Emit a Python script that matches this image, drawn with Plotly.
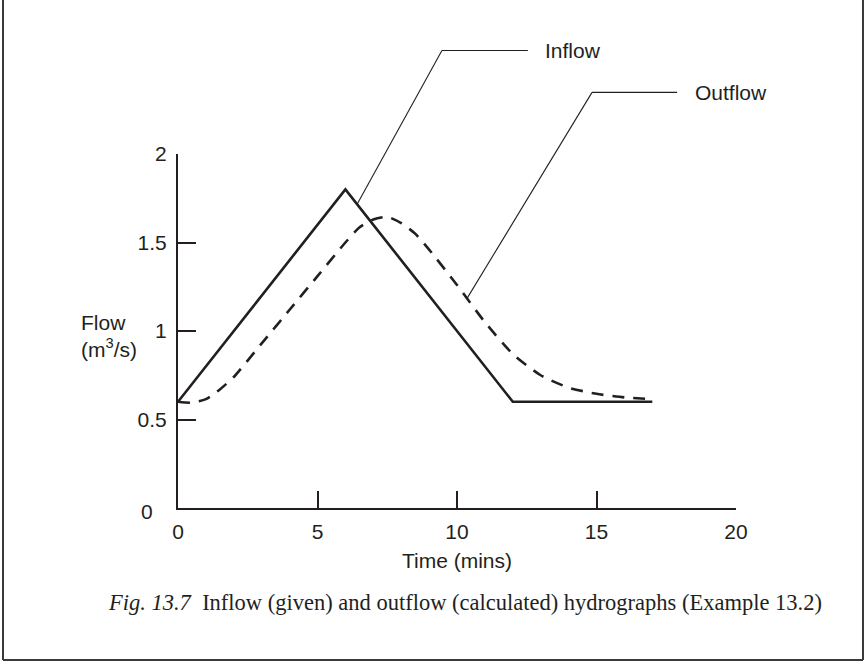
import numpy as np
import plotly.graph_objects as go

# Hydrograph data (time in minutes, flow in m^3/s)
inflow_t = [0, 6, 12, 17]
inflow_q = [0.6, 1.8, 0.6, 0.6]

outflow_t = [0, 0.5, 1, 1.5, 2, 3, 4, 5, 6, 6.5, 7, 7.5, 8, 8.5, 9, 10, 11, 12, 13, 14, 15, 16, 17]
outflow_q = [0.60, 0.595, 0.615, 0.67, 0.74, 0.93, 1.12, 1.31, 1.50, 1.585, 1.63, 1.645, 1.61,
             1.55, 1.46, 1.26, 1.05, 0.87, 0.75, 0.68, 0.645, 0.625, 0.615]

x_ticks = [0, 5, 10, 15, 20]
y_ticks = [0.5, 1, 1.5, 2]
y_ticktext = ["0.5", "1", "1.5", "2"]

X_MAX, Y_MAX = 20, 2

W, H = 866, 663
L, R, T, B = 178, 130, 154, 155
PW, PH = W - L - R, H - T - B

INK = "#231f20"
LABEL_FONT = dict(family="Liberation Sans, Arial, sans-serif", size=21, color=INK)


def px_to_paper_x(px):
    return (px - L) / PW


def px_to_paper_y(py):
    return (H - B - py) / PH


fig = go.Figure()

fig.add_trace(go.Scatter(
    x=inflow_t, y=inflow_q, mode="lines", name="Inflow",
    line=dict(color=INK, width=2.6), showlegend=False,
))
fig.add_trace(go.Scatter(
    x=outflow_t, y=outflow_q, mode="lines", name="Outflow",
    line=dict(color=INK, width=2.6, dash="12px,9px", shape="spline", smoothing=0.6),
    showlegend=False,
))

shapes = []
annotations = []

# Leader lines from each curve up to its label (paper coordinates so they
# can extend above the plotting range)
leaders = [
    ("Inflow", 6.42, float(np.interp(6.42, inflow_t, inflow_q)), 9.46, 2.585, 12.54),
    ("Outflow", 10.36, float(np.interp(10.36, outflow_t, outflow_q)), 14.84, 2.348, 17.89),
]
for text, t0, q0, t1, q1, t2 in leaders:
    x0, y0 = t0 / X_MAX, q0 / Y_MAX
    x1, y1 = t1 / X_MAX, q1 / Y_MAX
    x2 = t2 / X_MAX
    shapes.append(dict(type="line", xref="paper", yref="paper",
                       x0=x0, y0=y0, x1=x1, y1=y1,
                       line=dict(color=INK, width=1.1)))
    shapes.append(dict(type="line", xref="paper", yref="paper",
                       x0=x1, y0=y1, x1=x2, y1=y1,
                       line=dict(color=INK, width=1.1)))
    annotations.append(dict(xref="paper", yref="paper", x=x2 + 0.028, y=y1,
                            text=text, showarrow=False, xanchor="left",
                            yanchor="middle", font=LABEL_FONT))

# Figure frame (left, right and bottom rules)
frame = dict(color="#3a3a3a", width=2)
fx0, fx1 = px_to_paper_x(3), px_to_paper_x(863)
fy0, fy1 = px_to_paper_y(660), px_to_paper_y(0)
shapes += [
    dict(type="line", xref="paper", yref="paper", x0=fx0, x1=fx0, y0=fy0, y1=fy1, line=frame),
    dict(type="line", xref="paper", yref="paper", x0=fx1, x1=fx1, y0=fy0, y1=fy1, line=frame),
    dict(type="line", xref="paper", yref="paper", x0=fx0, x1=fx1, y0=fy0, y1=fy0, line=frame),
]

# Axis titles, origin label and caption
annotations += [
    dict(xref="paper", yref="paper", x=px_to_paper_x(79), y=px_to_paper_y(336),
         text="Flow<br>(m<sup>3</sup>/s)", showarrow=False, xanchor="left",
         yanchor="middle", align="left", font=LABEL_FONT),
    dict(xref="paper", yref="paper", x=px_to_paper_x(147), y=px_to_paper_y(512),
         text="0", showarrow=False, xanchor="center", yanchor="middle", font=LABEL_FONT),
    dict(xref="paper", yref="paper", x=0.5, y=px_to_paper_y(560),
         text="Time (mins)", showarrow=False, xanchor="center", yanchor="middle",
         font=LABEL_FONT),
    dict(xref="paper", yref="paper", x=px_to_paper_x(465), y=px_to_paper_y(602),
         text="<i>Fig. 13.7</i>\u00a0\u00a0Inflow (given) and outflow (calculated) "
              "hydrographs (Example 13.2)",
         showarrow=False, xanchor="center", yanchor="middle",
         font=dict(family="Liberation Serif, Times New Roman, serif", size=22.5, color=INK)),
]

fig.update_layout(
    width=W, height=H,
    margin=dict(l=L, r=R, t=T, b=B, pad=0),
    paper_bgcolor="white", plot_bgcolor="white",
    shapes=shapes, annotations=annotations,
    xaxis=dict(range=[0, X_MAX], tickvals=x_ticks, ticks="inside", ticklen=17,
               tickwidth=2, tickcolor=INK, showline=True, linecolor=INK, linewidth=2,
               showgrid=False, zeroline=False, tickfont=LABEL_FONT, ticklabelstandoff=4,
               fixedrange=True),
    yaxis=dict(range=[0, Y_MAX], tickvals=y_ticks, ticktext=y_ticktext, ticks="inside",
               ticklen=18, tickwidth=2, tickcolor=INK, showline=True, linecolor=INK,
               linewidth=2, showgrid=False, zeroline=False, tickfont=LABEL_FONT,
               ticklabelstandoff=5, fixedrange=True),
)

fig.write_html("out.html")
